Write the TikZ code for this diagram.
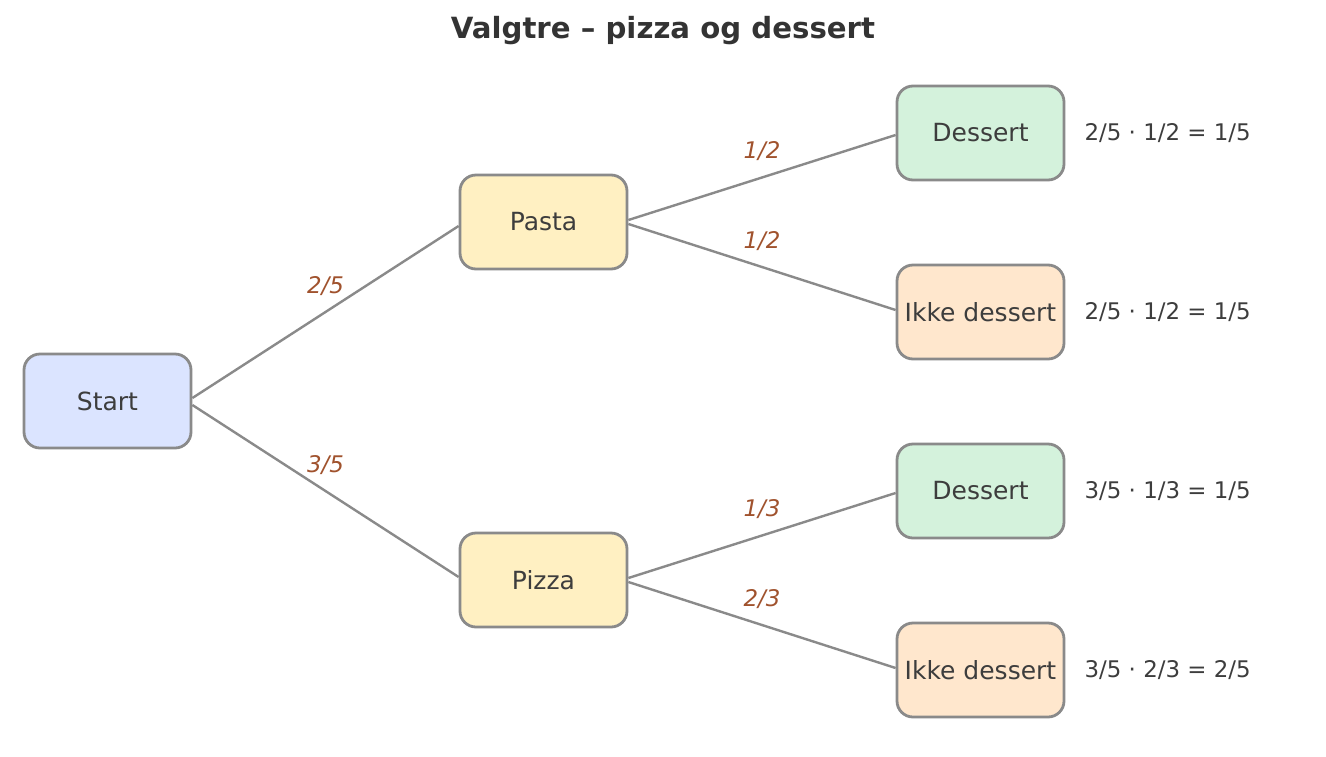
\documentclass[tikz,border=0pt]{standalone}
\usepackage{fontspec}
\setmainfont{DejaVu Sans}
\definecolor{edgegray}{HTML}{8A8A8A}
\definecolor{txt}{HTML}{3D3D3D}
\definecolor{ttl}{HTML}{333333}
\definecolor{lbl}{HTML}{A0522D}
\definecolor{fstart}{HTML}{DBE4FF}
\definecolor{fmid}{HTML}{FFF0C2}
\definecolor{fdes}{HTML}{D4F2DC}
\definecolor{fikke}{HTML}{FFE7CD}
\begin{document}
\begin{tikzpicture}[x=1pt,y=-1pt,
  box/.style={draw=edgegray, line width=2.8pt, rounded corners=16pt, minimum width=167pt, minimum height=94pt, inner sep=0pt, text=txt, font=\fontsize{25}{30}\selectfont},
  conn/.style={draw=edgegray, line width=2.4pt},
  plabel/.style={text=lbl, font=\fontsize{22.9}{27}\selectfont\itshape, yshift=26pt},
  eq/.style={anchor=west, text=txt, font=\fontsize{22.9}{27}\selectfont, inner sep=0pt}]
\useasboundingbox (0,0) rectangle (1326,756);
\fill[white] (0,0) rectangle (1326,756);
\node[text=ttl, font=\fontsize{29.2}{35}\selectfont\bfseries] (title) at (663,31) {Valgtre – pizza og dessert};
\node[box, fill=fstart] (start) at (107.5,401) {Start};
\node[box, fill=fmid] (pasta) at (543.5,222) {Pasta};
\node[box, fill=fmid] (pizza) at (543.5,580) {Pizza};
\node[box, fill=fdes] (d1) at (980.5,133) {Dessert};
\node[box, fill=fikke] (i1) at (980.5,312) {Ikke dessert};
\node[box, fill=fdes] (d2) at (980.5,491) {Dessert};
\node[box, fill=fikke] (i2) at (980.5,670) {Ikke dessert};
\draw[conn] ([yshift=3pt]start.east) -- ([yshift=-4pt]pasta.west) node[plabel, midway] {2/5};
\draw[conn] ([yshift=-4pt]start.east) -- ([yshift=3pt]pizza.west) node[plabel, midway] {3/5};
\draw[conn] ([yshift=2pt]pasta.east) -- ([yshift=-2pt]d1.west) node[plabel, midway] {1/2};
\draw[conn] ([yshift=-2pt]pasta.east) -- ([yshift=2pt]i1.west) node[plabel, midway] {1/2};
\draw[conn] ([yshift=2pt]pizza.east) -- ([yshift=-2pt]d2.west) node[plabel, midway] {1/3};
\draw[conn] ([yshift=-2pt]pizza.east) -- ([yshift=2pt]i2.west) node[plabel, midway] {2/3};
\node[eq] (e1) at ([xshift=19pt]d1.east) {2/5 · 1/2 = 1/5};
\node[eq] (e2) at ([xshift=19pt]i1.east) {2/5 · 1/2 = 1/5};
\node[eq] (e3) at ([xshift=19pt]d2.east) {3/5 · 1/3 = 1/5};
\node[eq] (e4) at ([xshift=19pt]i2.east) {3/5 · 2/3 = 2/5};
\end{tikzpicture}
\end{document}
